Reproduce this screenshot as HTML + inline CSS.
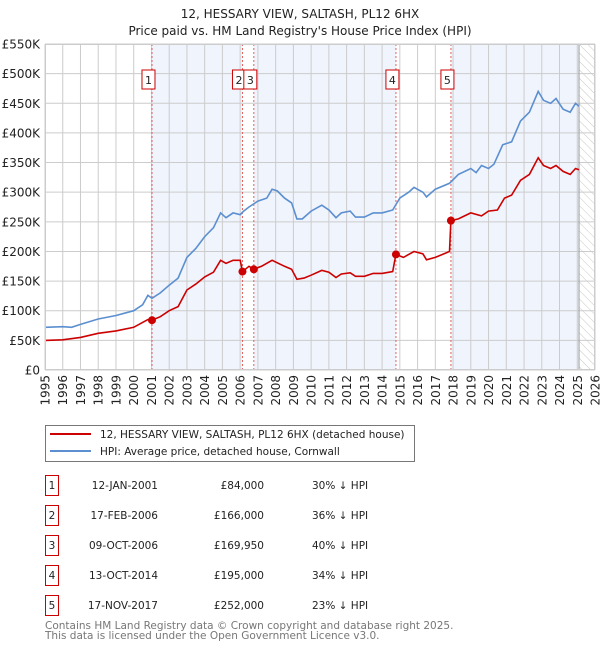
<!DOCTYPE html>
<html><head><meta charset="utf-8">
<style>
body{margin:0;background:#fff;font-family:"DejaVu Sans","Liberation Sans",sans-serif;}
svg text{font-family:"DejaVu Sans","Liberation Sans",sans-serif;}
</style></head>
<body>
<svg id="c" width="600" height="650" viewBox="0 0 600 650">
<defs>
<pattern id="hatch" width="6" height="6" patternUnits="userSpaceOnUse" patternTransform="rotate(-45)">
<line x1="0" y1="0" x2="0" y2="6" stroke="#c8c8c8" stroke-width="1"/>
</pattern>
</defs>
<text x="300" y="18" text-anchor="middle" font-size="12" fill="#222">12, HESSARY VIEW, SALTASH, PL12 6HX</text>
<text x="300" y="35" text-anchor="middle" font-size="12" fill="#222">Price paid vs. HM Land Registry's House Price Index (HPI)</text>
<g id="plot"></g>
<g>
<rect x="45.5" y="425.5" width="369" height="36" fill="#fff" stroke="#777"/>
<line x1="50" y1="434" x2="91" y2="434" stroke="#cc0000" stroke-width="2"/>
<text x="100" y="438" font-size="10.5" fill="#222">12, HESSARY VIEW, SALTASH, PL12 6HX (detached house)</text>
<line x1="50" y1="451" x2="91" y2="451" stroke="#5b8fd0" stroke-width="2"/>
<text x="100" y="455" font-size="10.5" fill="#222">HPI: Average price, detached house, Cornwall</text>
</g>
<g id="table"></g>
<text x="45" y="629" font-size="10.5" fill="#777">Contains HM Land Registry data © Crown copyright and database right 2025.</text>
<text x="45" y="639" font-size="10.5" fill="#777">This data is licensed under the Open Government Licence v3.0.</text>
</svg>
<script>
const yTicks=[0,50,100,150,200,250,300,350,400,450,500,550];
const yTickLabels=["£0","£50K","£100K","£150K","£200K","£250K","£300K","£350K","£400K","£450K","£500K","£550K"];
const years=[1995,1996,1997,1998,1999,2000,2001,2002,2003,2004,2005,2006,2007,2008,2009,2010,2011,2012,2013,2014,2015,2016,2017,2018,2019,2020,2021,2022,2023,2024,2025,2026];
const hpiT=[1995,1996,1996.5,1997,1998,1999,2000,2000.5,2000.8,2001.03,2001.5,2002,2002.5,2003,2003.5,2004,2004.5,2004.9,2005.2,2005.6,2006.0,2006.2,2006.5,2007,2007.5,2007.8,2008.1,2008.5,2008.9,2009.2,2009.5,2010,2010.6,2011,2011.4,2011.7,2012.2,2012.5,2013,2013.5,2014,2014.6,2015,2015.5,2015.8,2016.3,2016.5,2017,2017.8,2018.3,2019,2019.3,2019.6,2020,2020.3,2020.8,2021.3,2021.8,2022.3,2022.8,2023.1,2023.5,2023.8,2024.2,2024.6,2024.9,2025.1];
const hpiV=[72,73,72,77,86,92,100,110,126,121,130,143,155,190,205,225,240,265,257,265,262,268,275,285,290,305,302,290,282,255,255,268,278,270,257,265,268,258,258,265,265,270,290,300,308,300,292,305,315,330,340,333,345,340,347,380,385,420,435,470,455,450,458,440,435,450,445];
const ppT=[1995,1996,1997,1998,1999,2000,2000.8,2001.03,2001.5,2002,2002.5,2003,2003.5,2004,2004.5,2004.9,2005.2,2005.6,2006.0,2006.13,2006.5,2006.77,2007.2,2007.8,2008.5,2008.9,2009.2,2009.6,2010,2010.6,2011,2011.4,2011.7,2012.2,2012.5,2013,2013.5,2014,2014.6,2014.78,2015.2,2015.8,2016.3,2016.5,2017,2017.8,2017.88,2018.3,2019,2019.6,2020,2020.5,2020.9,2021.3,2021.8,2022.3,2022.8,2023.1,2023.5,2023.8,2024.2,2024.6,2024.9,2025.1];
const ppV=[50,51,55,62,66,72,85,84,90,100,107,135,145,157,165,185,180,185,185,166,175,170,175,185,175,170,153,155,160,168,165,156,162,164,158,158,163,163,166,195,190,200,196,186,190,200,252,255,265,260,268,270,290,295,320,330,358,345,340,345,335,330,340,338];
const saleT=[2001.03,2006.13,2006.77,2014.78,2017.88];
const saleV=[84,166,169.95,195,252];
const saleLabels=["1","2","3","4","5"];
const saleDates=["12-JAN-2001","17-FEB-2006","09-OCT-2006","13-OCT-2014","17-NOV-2017"];
const salePrices=["£84,000","£166,000","£169,950","£195,000","£252,000"];
const saleHpi=["30% ↓ HPI","36% ↓ HPI","40% ↓ HPI","34% ↓ HPI","23% ↓ HPI"];

const X0=45,X1=595,Y0=370,Y1=44,T0=1995,T1=2026,V1=550,DATA_END=2025.1;
const x=t=>X0+(t-T0)/(T1-T0)*(X1-X0);
const y=v=>Y0-v/V1*(Y0-Y1);
const NS="http://www.w3.org/2000/svg";
const plot=document.getElementById('plot');
function mk(tag,attrs,parent){const e=document.createElementNS(NS,tag);for(const k in attrs)e.setAttribute(k,attrs[k]);(parent||plot).appendChild(e);return e;}

for(let i=0;i<saleT.length;i++){
  const a=saleT[i], b=i+1<saleT.length?saleT[i+1]:DATA_END;
  if(i===1||i===3) continue;
  const r=mk('rect',{x:x(a),y:Y1,width:x(b)-x(a),height:Y0-Y1,fill:'#f0f4fc'});
  
  
}
const h=mk('rect',{x:x(DATA_END),y:Y1,width:X1-x(DATA_END),height:Y0-Y1,fill:'url(#hatch)'});


years.forEach(t=>{const l=mk('line',{x1:x(t),x2:x(t),y1:Y1,y2:Y0,stroke:'#cccccc','stroke-width':1});

});
yTicks.forEach(v=>{const l=mk('line',{x1:X0,x2:X1,y1:y(v),y2:y(v),stroke:'#cccccc','stroke-width':1});

});
mk('line',{x1:x(DATA_END),x2:x(DATA_END),y1:Y1,y2:Y0,stroke:'#999','stroke-width':1});
yTicks.forEach((v,i)=>{const t=mk('text',{x:40,y:y(v)+4.5,'text-anchor':'end','font-size':12,fill:'#222'});t.textContent=yTickLabels[i];

});
years.forEach(yr=>{const t=mk('text',{x:0,y:0,'font-size':12,fill:'#222','text-anchor':'end',transform:`translate(${x(yr)+4.5},375) rotate(-90)`});t.textContent=yr;

});
saleT.forEach(t=>{const l=mk('line',{x1:x(t),x2:x(t),y1:Y1,y2:Y0,stroke:'#e06060','stroke-width':1,'stroke-dasharray':'2,2'});

});
const path=(T,V)=>T.map((t,i)=>(i?'L':'M')+x(t).toFixed(1)+','+y(V[i]).toFixed(1)).join('');
const hp=mk('path',{d:path(hpiT,hpiV),fill:'none',stroke:'#5b8fd0','stroke-width':1.6});


const pp=mk('path',{d:path(ppT,ppV),fill:'none',stroke:'#cc0000','stroke-width':1.6});


saleT.forEach((t,i)=>{const c=mk('circle',{cx:x(t),cy:y(saleV[i]),r:4,fill:'#cc0000'});


const g=mk('g',{});


const cx=x(t)-3;
mk('rect',{x:cx-7,y:70,width:13,height:19,fill:'#fff',stroke:'#cc0000','stroke-width':1},g);
const tx=mk('text',{x:cx-0.5,y:84,'text-anchor':'middle','font-size':11,fill:'#222'},g);tx.textContent=saleLabels[i];});
mk('rect',{x:X0+0.5,y:Y1+0.5,width:X1-X0-1,height:Y0-Y1-1,fill:'none',stroke:'#cccccc'});
const tb=document.getElementById('table');
saleLabels.forEach((lab,i)=>{const ry=475+i*30;
const g=mk('g',{},tb);


mk('rect',{x:45.5,y:ry+0.5,width:13,height:20,fill:'#fff',stroke:'#cc0000'},g);
let t=mk('text',{x:52,y:ry+14,'text-anchor':'middle','font-size':10.5,fill:'#222'},g);t.textContent=lab;
t=mk('text',{x:158,y:ry+14,'text-anchor':'end','font-size':10.5,fill:'#222'},g);t.textContent=saleDates[i];
t=mk('text',{x:264,y:ry+14,'text-anchor':'end','font-size':10.5,fill:'#222'},g);t.textContent=salePrices[i];
t=mk('text',{x:312,y:ry+14,'font-size':10.5,fill:'#222'},g);t.textContent=saleHpi[i];});
</script>
</body></html>
